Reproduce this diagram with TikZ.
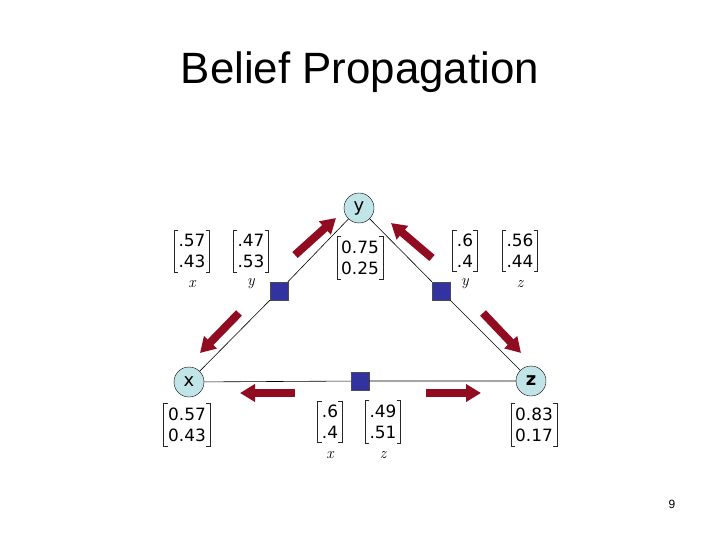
\documentclass[tikz,border=0pt]{standalone}
\usepackage{fontspec}
\setmainfont{Liberation Sans}
\newfontfamily\numfont{DejaVu Sans}
\newfontfamily\lblfont{Latin Modern Roman}
\usetikzlibrary{arrows.meta}
\definecolor{msgred}{RGB}{145,12,32}
\definecolor{varcyan}{RGB}{192,228,232}
\definecolor{facblue}{RGB}{50,50,160}
\tikzset{var/.style={circle,draw=black,fill=varcyan,minimum size=30bp,inner sep=0pt,
   font=\numfont\fontsize{18}{20}\selectfont},
 factor/.style={draw=black!70,fill=facblue,minimum size=18bp,inner sep=0pt},
 msg/.style={draw=msgred,line width=8bp,-{Triangle[length=15bp,width=17bp]}},
 belief/.style={inner xsep=4bp,inner ysep=4bp,align=left,font=\numfont\fontsize{17}{21}\selectfont},
 bracket/.style={line width=0.9bp,black!85},
 lbl/.style={inner sep=0pt,font=\lblfont\itshape\fontsize{16}{16}\selectfont},
 }
\newcommand{\brk}[1]{%
  \draw[bracket] ([xshift=4bp]#1.north west) -- (#1.north west) -- (#1.south west) -- ([xshift=4bp]#1.south west);
  \draw[bracket] ([xshift=-4bp]#1.north east) -- (#1.north east) -- (#1.south east) -- ([xshift=-4bp]#1.south east);}

\begin{document}
\begin{tikzpicture}[x=1bp,y=-1bp]
        \useasboundingbox (0,0) rectangle (720,540);
        \node[anchor=base,font=\fontsize{44}{50}\selectfont] (title) at (360,84) {Belief Propagation};

        % variables and factors
        \node[var] (y) at (359,208) {y};
        \node[var] (x) at (189,382) {x};
        \node[var] (z) at (531,381) {\bfseries z};
        \node[factor] (fxy) at (279,291) {};
        \node[factor] (fyz) at (441,291) {};
        \node[factor] (fxz) at (360,381) {};
        \draw[line width=0.6bp] (y) -- (fxy) -- (x);
        \draw[line width=0.6bp] (y) -- (fyz) -- (z);
        \draw[line width=0.6bp] (x) -- (fxz) -- (z);

        % messages
        \foreach \i/\sx/\sy/\ex/\ey in {1/295/255/336/218, 2/432/258/391/223,
                                        3/239/313/200/353, 4/483/313/521/353,
                                        5/295/393/240/393, 6/426/393/481/393} {
            \coordinate (t\i) at (\sx,\sy);
            \coordinate (h\i) at (\ex,\ey);
            \draw[msg] (t\i) -- (h\i);
        }

        % beliefs
        \node[belief] (by) at (360,258) {0.75\\0.25};
        \node[belief] (bx) at (187,425) {0.57\\0.43};
        \node[belief] (bz) at (534,425) {0.83\\0.17};
        \brk{by} \brk{bx} \brk{bz}

        % message tables
        \foreach \nm/\px/\py/\a/\b/\v in {xa/192/251/.57/.43/x, xb/251/251/.47/.53/y,
                                          ya/465/251/.6/.4/y, yb/520/251/.56/.44/z,
                                          za/330/422/.6/.4/x, zb/383/422/.49/.51/z} {
            \node[belief] (m\nm) at (\px,\py) {\a\\\b};
            \brk{m\nm}
            \node[lbl] (l\nm) at (\px,\py+33) {\v};
        }

        \node[anchor=base,font=\fontsize{12}{14}\selectfont] (page) at (672,508) {9};
    \end{tikzpicture}
\end{document}
